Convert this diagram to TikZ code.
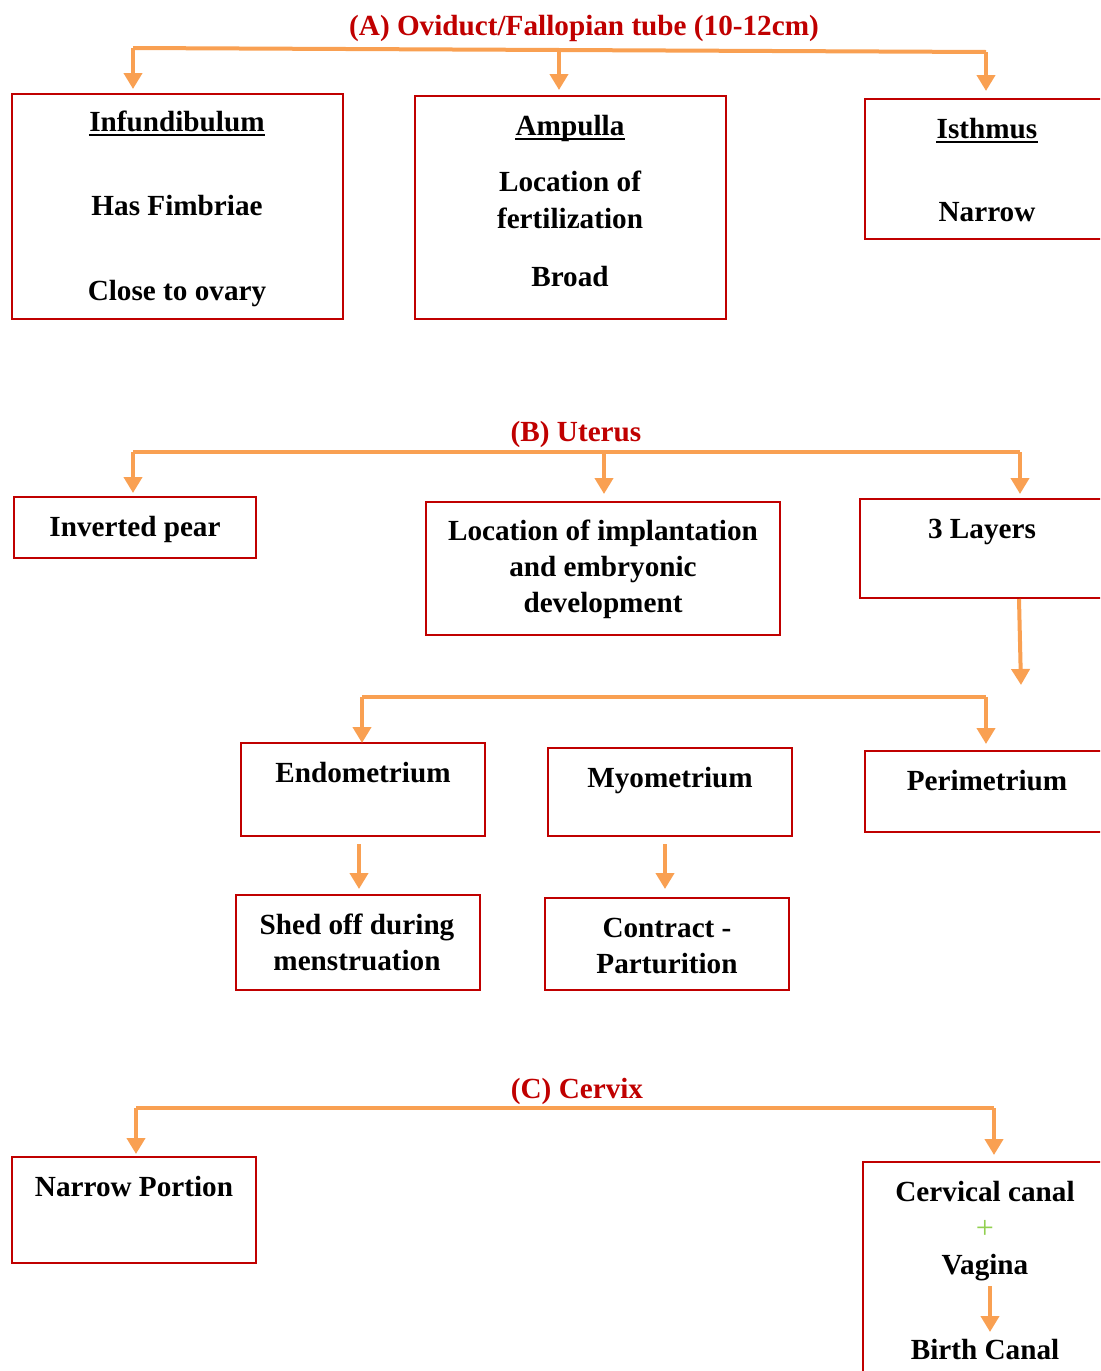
\documentclass[tikz,border=0pt]{standalone}
\usepackage{fontspec}
\setmainfont{Liberation Serif}
\usetikzlibrary{arrows.meta,fit}
\definecolor{boxred}{RGB}{192,0,0}
\definecolor{arrorange}{RGB}{249,160,82}
\definecolor{plusgreen}{RGB}{146,208,80}
\tikzset{
  box/.style={draw=boxred,line width=1.25pt,inner sep=0pt},
  lbl/.style={font=\bfseries\fontsize{14.6}{17}\selectfont,inner sep=0pt,text=black,anchor=base},
  ttl/.style={font=\bfseries\fontsize{14.6}{17}\selectfont,inner sep=0pt,text=boxred,anchor=base},
  conn/.style={draw=arrorange,line width=2pt},
  arr/.style={draw=arrorange,line width=2pt,-{Triangle[width=9pt,length=8pt]}},
  uline/.style={draw=black,line width=0.8pt},
}
\newcommand{\myuline}[1]{\draw[uline] ([yshift=-1.9pt]#1.base west) -- ([yshift=-1.9pt]#1.base east);}
\begin{document}
\begin{tikzpicture}[x=0.5pt,y=-0.5pt]
\clip (0,0) rectangle (1100,1371);
\fill[white] (0,0) rectangle (1100,1371);
% ---------- (A) ----------
\node[ttl] (tA) at (584,35) {(A) Oviduct/Fallopian tube (10-12cm)};
\coordinate (a1) at (133,48);
\coordinate (a2) at (559,50);
\coordinate (a3) at (986,52);
\node[box,fit={(12,94)(343,319)}] (inf) {};
\node[box,fit={(415,96)(726,319)}] (amp) {};
\node[box,fit={(865,99)(1120,239)}] (ist) {};
\draw[conn] (a1) -- (a3);
\draw[arr] (a1) -- (133,89);
\draw[arr] (a2) -- (559,90);
\draw[arr] (a3) -- (986,91);
\node[lbl] (inf1) at (177,131) {Infundibulum};
\node[lbl] (inf2) at (177,215) {Has Fimbriae};
\node[lbl] (inf3) at (177,300) {Close to ovary};
\node[lbl] (amp1) at (570,135) {Ampulla};
\node[lbl] (amp2) at (570,191) {Location of};
\node[lbl] (amp3) at (570,228) {fertilization};
\node[lbl] (amp4) at (570,286) {Broad};
\node[lbl] (ist1) at (987,138) {Isthmus};
\node[lbl] (ist2) at (987,221) {Narrow};
\myuline{inf1}
\myuline{amp1}
\myuline{ist1}
% ---------- (B) ----------
\node[ttl] (tB) at (576,441) {(B) Uterus};
\coordinate (b1) at (133,452);
\coordinate (b2) at (604,452);
\coordinate (b3) at (1020,452);
\node[box,fit={(14,497)(256,558)}] (pear) {};
\node[box,fit={(426,502)(780,635)}] (loc) {};
\node[box,fit={(860,499)(1120,598)}] (lay) {};
\draw[conn] (b1) -- (b3);
\draw[arr] (b1) -- (133,493);
\draw[arr] (b2) -- (604,494);
\draw[arr] (b3) -- (1020,494);
\node[lbl] (pear1) at (135,536) {Inverted pear};
\node[lbl] (loc1) at (603,540) {Location of implantation};
\node[lbl] (loc2) at (603,576) {and embryonic};
\node[lbl] (loc3) at (603,612) {development};
\node[lbl] (lay1) at (982,538) {3 Layers};
\coordinate (l0) at (1019,599);
\draw[arr] (l0) -- (1021,685);
\coordinate (c1) at (362,697);
\coordinate (c2) at (986,697);
\node[box,fit={(241,743)(485,836)}] (endo) {};
\node[box,fit={(548,748)(792,836)}] (myo) {};
\node[box,fit={(865,751)(1120,832)}] (peri) {};
\draw[conn] (c1) -- (c2);
\draw[arr] (c1) -- (362,743);
\draw[arr] (c2) -- (986,744);
\node[lbl] (endo1) at (363,782) {Endometrium};
\node[lbl] (myo1) at (670,787) {Myometrium};
\node[lbl] (peri1) at (987,790) {Perimetrium};
\node[box,fit={(236,895)(480,990)}] (shed) {};
\node[box,fit={(545,898)(789,990)}] (con) {};
\coordinate (e0) at (359,844);
\coordinate (m0) at (665,844);
\draw[arr] (e0) -- (359,889);
\draw[arr] (m0) -- (665,889);
\node[lbl] (shed1) at (357,934) {Shed off during};
\node[lbl] (shed2) at (357,970) {menstruation};
\node[lbl] (con1) at (667,937) {Contract -};
\node[lbl] (con2) at (667,973) {Parturition};
% ---------- (C) ----------
\node[ttl] (tC) at (577,1098) {(C) Cervix};
\coordinate (d1) at (136,1108);
\coordinate (d2) at (994,1108);
\node[box,fit={(12,1157)(256,1263)}] (nar) {};
\node[box,fit={(863,1162)(1120,1400)}] (cerv) {};
\draw[conn] (d1) -- (d2);
\draw[arr] (d1) -- (136,1154);
\draw[arr] (d2) -- (994,1155);
\node[lbl] (nar1) at (134,1196) {Narrow Portion};
\node[lbl] (cv1) at (985,1201) {Cervical canal};
\node[inner sep=0pt,text=plusgreen,font=\fontsize{16}{18}\selectfont] (cv2) at (985,1229) {+};
\node[lbl] (cv3) at (985,1274) {Vagina};
\node[lbl] (cv4) at (985,1359) {Birth Canal};
\draw[arr] (990,1286) -- (990,1332);
\end{tikzpicture}
\end{document}
